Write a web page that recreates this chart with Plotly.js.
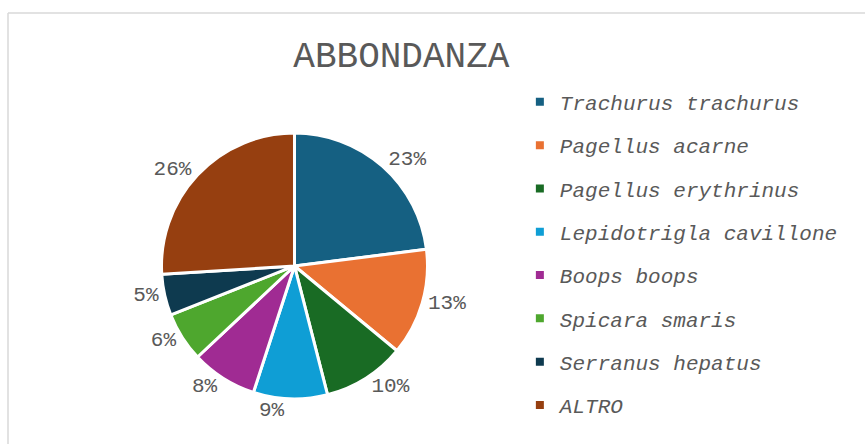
<!DOCTYPE html>
<html>
<head>
<meta charset="utf-8">
<script src="https://cdn.plot.ly/plotly-3.0.1.min.js"></script>
<style>html,body{margin:0;padding:0;background:#fff;}#chart{width:865px;height:444px;}</style>
</head>
<body>
<div id="chart"></div>
<script>
const species = ["Trachurus trachurus","Pagellus acarne","Pagellus erythrinus","Lepidotrigla cavillone","Boops boops","Spicara smaris","Serranus hepatus","ALTRO"];
const abundance = [23,13,10,9,8,6,5,26];
const sliceColors = ["#156082","#E97132","#196B24","#0F9ED5","#A02B93","#4EA72E","#0E3A4F","#963F10"];
const chartTitle = "ABBONDANZA";

const pieTrace = {
  type: "pie",
  labels: species,
  values: abundance,
  sort: false,
  direction: "clockwise",
  rotation: 0,
  marker: {colors: sliceColors, line: {color: "#ffffff", width: 3}},
  textinfo: "percent",
  textposition: "outside",
  textfont: {family: "Liberation Mono, monospace", size: 21, color: "#595959"},
  showlegend: false,
  domain: {x: [0.1867, 0.4942], y: [0.1014, 0.7005]}
};

// legend entries (one per slice, same names and colours as the pie)
const legendTraces = species.map((name, i) => ({
  type: "scatter", mode: "markers",
  x: [null], y: [null],
  name: name,
  legendgroup: "g" + i,
  showlegend: true,
  marker: {symbol: "square", size: 8, color: sliceColors[i]}
}));

const layout = {
  width: 865, height: 444,
  margin: {l: 0, r: 0, t: 0, b: 0},
  paper_bgcolor: "#ffffff",
  plot_bgcolor: "rgba(0,0,0,0)",
  font: {family: "Liberation Mono, monospace", color: "#595959"},
  xaxis: {visible: false},
  yaxis: {visible: false},
  showlegend: true,
  title: {text: chartTitle, font: {family: "Liberation Mono, monospace", size: 36, color: "#595959"}, x: 0.464, xanchor: "center", y: 0.878, yanchor: "middle"},
  legend: {
    x: 0.601, xanchor: "left", y: 0.816, yanchor: "top",
    font: {family: "Liberation Mono, monospace", size: 21, color: "#595959", style: "italic"},
    tracegroupgap: 13, itemwidth: 30,
    traceorder: "grouped"
  },
  shapes: [
    {type: "line", xref: "paper", yref: "paper", x0: 8/865, x1: 1.01, y0: 1 - 13/444, y1: 1 - 13/444, line: {color: "#D9D9D9", width: 1.5}},
    {type: "line", xref: "paper", yref: "paper", x0: 8/865, x1: 8/865, y0: -0.01, y1: 1 - 13/444, line: {color: "#D9D9D9", width: 1.5}}
  ]
};

Plotly.newPlot("chart", [pieTrace].concat(legendTraces), layout, {displayModeBar: false, staticPlot: true});
</script>
</body>
</html>
